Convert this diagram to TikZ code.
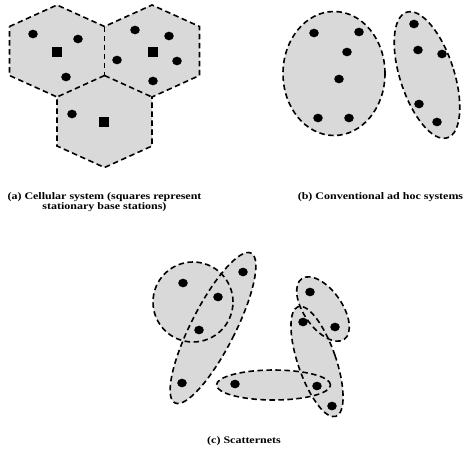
\documentclass[tikz,border=0pt]{standalone}
\usepackage{fontspec}
\setmainfont{Liberation Serif}
\newfontfamily\capfont[FakeStretch=1.2]{Liberation Serif}
\definecolor{regfill}{RGB}{217,217,217}
\begin{document}
\begin{tikzpicture}[x=1pt,y=-1pt,
  region/.style={fill=regfill},
  outline/.style={draw=black, line width=1.6pt, dash pattern=on 5.5pt off 3.5pt},
  dot/.style={fill=black},
  caption/.style={font=\capfont\bfseries\fontsize{10}{10}\selectfont, align=center, inner sep=0pt}
]
\useasboundingbox (0,0) rectangle (466,448);
% (a) cellular system
\coordinate (a1) at (57,5);
\coordinate (b1) at (104.5,26.5);
\coordinate (c1) at (104.5,75.5);
\coordinate (d1) at (57,97);
\coordinate (e1) at (9.5,75.5);
\coordinate (f1) at (9.5,26.5);
\coordinate (a2) at (152,5);
\coordinate (b2) at (199.5,26.5);
\coordinate (c2) at (199.5,75.5);
\coordinate (d2) at (152,97);
\coordinate (c3) at (152,146);
\coordinate (d3) at (104.5,167.5);
\coordinate (e3) at (57,146);
\path[region] (f1) -- (a1) -- (b1) -- (a2) -- (b2) -- (c2) -- (d2) -- (c3) -- (d3) -- (e3) -- (d1) -- (e1) -- cycle;
\path[outline] (f1) -- (a1) -- (b1) -- (a2) -- (b2) -- (c2) -- (d2) -- (c3) -- (d3) -- (e3) -- (d1) -- (e1) -- cycle;
\path[outline] (b1) -- (c1);
\path[outline] (c1) -- (d1);
\path[outline] (c1) -- (d2);
\foreach \p in {(33,34),(78,39),(66,77),(135,30),(169,36),(117,60),(177,61),(153,81),(72,114)}{
  \path[dot] \p ellipse [x radius=4.8pt, y radius=4.3pt];
}
\foreach \p in {(57,52),(153,52),(104,122)}{
  \path[dot] \p ++(-4.8,-4.6) rectangle ++(9.6,9.2);
}
\node[caption] (capa) at (104.5,202) {(a) Cellular system (squares represent\\stationary base stations)};

% (b) conventional ad hoc
\path[region] (334,73.5) ellipse [x radius=51pt, y radius=62pt];
\path[region, rotate around={18:(427,75)}] (427,75) ellipse [x radius=27pt, y radius=66pt];
\path[outline] (334,73.5) ellipse [x radius=51pt, y radius=62pt];
\path[outline, rotate around={18:(427,75)}] (427,75) ellipse [x radius=27pt, y radius=66pt];
\foreach \p in {(314,33),(359,32),(347,52),(339,79),(318,118),(349,118),(414,24),(418,50),(442,54),(419,104),(437,122)}{
  \path[dot] \p ellipse [x radius=4.8pt, y radius=4.3pt];
}
\node[caption] (capb) at (380.5,197) {(b) Conventional ad hoc systems};

% (c) scatternets
\path[region] (193,302) circle [radius=40pt];
\path[region, rotate around={-27:(213,328)}] (213,328) ellipse [x radius=22pt, y radius=84pt];
\path[region, rotate around={35:(323,309)}] (323,309) ellipse [x radius=19pt, y radius=37pt];
\path[region, rotate around={19:(317,361.5)}] (317,361.5) ellipse [x radius=19pt, y radius=58pt];
\path[region] (273.5,385) ellipse [x radius=57pt, y radius=15pt];
\path[outline] (193,302) circle [radius=40pt];
\path[outline, rotate around={-27:(213,328)}] (213,328) ellipse [x radius=22pt, y radius=84pt];
\path[outline, rotate around={35:(323,309)}] (323,309) ellipse [x radius=19pt, y radius=37pt];
\path[outline, rotate around={19:(317,361.5)}] (317,361.5) ellipse [x radius=19pt, y radius=58pt];
\path[outline] (273.5,385) ellipse [x radius=57pt, y radius=15pt];
\foreach \p in {(183,283),(218,297),(199,330),(243,272),(182,383),(310,292),(335,327),(303,322),(317,386),(332,406),(235,384)}{
  \path[dot] \p ellipse [x radius=4.8pt, y radius=4.3pt];
}
\node[caption] (capc) at (244,441) {(c) Scatternets};
\end{tikzpicture}
\end{document}
